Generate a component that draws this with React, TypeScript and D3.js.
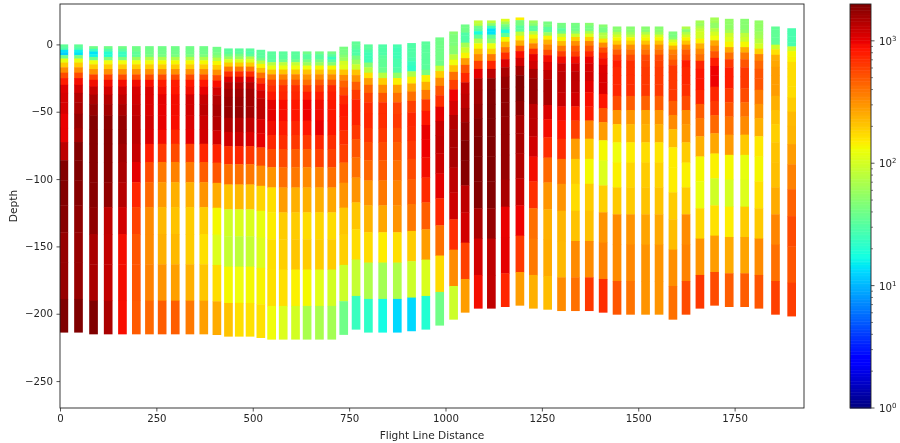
import React, { useEffect, useRef } from "react";
import * as d3 from "d3";

// station position along the flight line
const stations = [
  10, 48, 87, 125, 162, 198, 232, 265, 299, 337, 373, 407, 437, 465, 493, 521, 549, 579, 611, 641,
  673, 705, 736, 768, 800, 837, 875, 912, 949, 985, 1021, 1051, 1085, 1119, 1155, 1193, 1228, 1265, 1301, 1337,
  1373, 1409, 1445, 1480, 1519, 1554, 1590, 1624, 1660, 1698, 1736, 1776, 1813, 1856, 1898,
];

// ground elevation at every station
const elevation = [
  0, 0, -1.3, -1.3, -1.3, -1.3, -1.3, -1.3, -1.3, -1.3, -1.3, -1.8, -3, -3, -3, -4, -5.2, -5.2, -5.2, -5.2,
  -5.2, -5.2, -1.7, 2.2, 0, 0, 0, 1, 2.2, 5.2, 9.6, 14.8, 17.8, 17.8, 19, 20, 17.8, 17, 16, 16,
  16, 14.8, 13.3, 13.3, 13.3, 13.3, 9.6, 13.3, 17.8, 20, 19, 19, 17.8, 13.3, 12,
];

// bottom of each model layer, depth below ground
const layerBottoms = [2, 4, 6, 8, 10.5, 13.5, 17, 21, 25, 30, 36, 43, 51.5, 62, 72.5, 86, 101, 119.5, 139.5, 162, 189, 214];

// one row per station, one value per layer (top to bottom)
const resistivity = [
  [35,30,14,12,40,121,195,330,553,800,1060,1130,1130,990,1000,1330,1950,1950,1900,1730,1730,2000],
  [35,30,16,14,43,121,195,330,553,930,1165,1420,1510,1730,1600,1950,2000,1900,1800,1730,1730,2000],
  [40,24,14,16,40,131,195,320,600,950,1250,1510,1730,1950,1900,1900,1900,1900,1800,1510,1510,2000],
  [40,30,20,20,45,131,195,320,600,950,1165,1420,1600,1850,1900,1900,1900,1800,1330,1290,1290,1510],
  [40,33,24,24,45,131,195,320,553,930,1165,1330,1510,1730,1730,1600,1510,1400,1165,930,930,900],
  [40,40,35,35,60,131,195,320,553,950,1130,1165,1250,1330,1330,1250,1025,745,590,510,510,490],
  [40,40,40,43,72,131,195,320,553,900,1100,1100,1100,1165,1100,800,553,440,330,330,354,440],
  [40,40,40,43,72,136,195,320,553,800,930,1025,1000,1000,930,644,380,290,230,245,306,479],
  [40,40,40,43,72,136,195,320,553,800,867,930,930,900,745,553,354,245,210,227,280,479],
  [40,40,40,45,72,136,195,320,553,850,950,1165,1165,1100,1025,600,380,245,195,195,245,380],
  [40,40,40,45,72,136,195,320,553,850,1000,1250,1330,1200,1165,745,479,306,195,168,205,280],
  [40,40,43,50,77,136,195,320,553,900,1165,1420,1510,1420,1165,760,510,255,136,110,170,255],
  [33,33,40,60,106,195,380,700,1100,1420,1600,1700,1730,1450,1165,700,412,210,97,88,136,210],
  [33,33,43,60,106,195,380,700,1100,1400,1600,1700,1730,1400,1200,745,412,227,106,82,131,168],
  [33,30,35,72,110,195,380,700,1100,1400,1600,1600,1600,1300,1100,644,380,210,106,88,136,165],
  [33,33,33,40,77,138,220,412,650,930,1165,1330,1330,1100,1000,553,330,180,121,110,142,165],
  [33,33,33,33,77,121,210,380,600,700,850,1025,1025,950,745,553,306,168,150,168,165,131],
  [33,33,33,40,82,126,210,354,510,700,745,900,900,800,700,553,412,285,195,190,168,110],
  [33,33,33,40,88,131,205,354,510,700,745,850,850,745,644,479,380,245,195,205,145,100],
  [40,33,33,43,60,131,210,306,412,600,800,960,960,850,644,479,330,245,172,195,136,68],
  [40,33,33,43,60,136,210,330,479,644,800,950,950,1000,745,600,354,245,180,195,115,68],
  [40,33,24,33,50,136,210,330,510,745,800,850,850,850,700,600,412,263,172,195,100,65],
  [43,43,43,50,60,100,115,210,330,450,553,745,850,800,700,600,412,306,205,190,94,40],
  [35,35,33,30,30,43,60,94,210,306,479,644,760,760,644,510,412,306,205,170,88,24],
  [33,33,28,26,26,26,50,77,165,285,450,600,720,745,660,553,440,306,235,172,72,22],
  [30,30,30,30,33,35,35,38,77,195,330,510,700,700,644,553,479,380,263,150,65,17],
  [28,26,26,26,26,28,28,30,55,145,285,412,600,644,553,479,412,354,306,168,72,13],
  [30,30,30,30,30,28,24,22,72,145,263,412,600,745,720,644,553,479,380,195,94,13],
  [33,33,33,33,33,33,33,33,43,145,245,380,644,850,1000,960,930,720,479,285,106,20],
  [40,40,40,40,40,40,40,40,88,195,330,510,700,1025,1240,1290,1200,1025,745,412,175,40],
  [50,45,45,45,45,50,50,82,131,210,412,600,960,1130,1420,1510,1510,1330,1200,700,330,94],
  [40,40,40,30,30,30,65,94,142,285,510,745,1240,1330,1510,1730,1950,1900,1330,1165,600,285],
  [90,77,40,33,18,35,72,136,215,330,600,1025,1510,1600,1730,1900,2000,2000,1950,1510,1165,930],
  [82,50,24,14,14,35,50,126,190,380,745,1330,1850,1950,2000,2000,2000,2000,1950,1730,1330,1300],
  [110,65,43,33,18,35,136,240,400,700,1100,1510,1730,1800,1800,1730,1730,1730,1510,1000,1025,745],
  [145,43,43,33,33,82,145,250,510,900,1165,1600,1950,1950,1800,1510,1510,1420,1250,960,644,285],
  [60,50,33,33,77,138,195,354,700,1025,1165,1510,1700,1700,1330,1330,1165,930,700,412,380,245],
  [43,43,33,33,60,145,245,354,553,930,1100,1330,1510,1510,1100,930,700,440,306,245,255,220],
  [43,40,33,40,88,136,227,380,600,950,1240,1330,1330,1240,950,867,700,412,306,235,230,330],
  [43,40,40,50,94,190,320,479,600,950,1165,1330,1300,1165,800,600,285,195,172,210,330,412],
  [50,43,43,65,110,195,354,510,745,1000,1130,1165,1025,900,800,354,195,136,195,215,330,644],
  [50,43,43,72,82,168,330,553,745,930,1060,1100,1100,867,510,285,136,110,190,306,354,700],
  [50,50,72,100,136,195,330,479,644,800,745,745,745,553,306,180,131,145,200,330,330,510],
  [50,50,60,82,138,195,320,412,553,700,700,700,700,479,306,227,150,180,200,306,340,400],
  [50,50,72,110,138,210,330,412,553,600,644,650,650,460,270,240,170,195,210,270,306,306],
  [50,50,60,100,138,210,330,412,553,600,644,644,644,479,306,245,160,185,210,263,306,306],
  [45,43,50,100,138,245,354,412,510,644,644,644,644,479,330,220,150,150,195,220,320,412],
  [72,50,72,100,142,210,354,479,553,800,745,745,700,553,330,290,195,145,195,330,354,553],
  [65,60,72,88,100,100,145,245,330,412,745,867,867,745,479,380,245,136,126,180,306,644],
  [65,65,55,55,77,100,131,263,354,510,800,960,960,745,644,440,263,145,97,165,285,553],
  [55,55,55,55,65,94,110,142,263,412,644,800,800,644,510,400,290,136,102,150,255,479],
  [50,50,50,50,55,82,94,136,245,380,510,644,644,553,412,330,200,121,110,195,270,479],
  [55,55,55,55,60,65,77,100,190,354,440,510,510,380,306,245,155,138,165,200,330,510],
  [35,35,35,35,35,35,94,165,245,263,285,285,285,245,215,190,210,217,255,345,412,600],
  [28,28,28,28,28,28,94,136,145,170,172,172,172,195,227,235,285,354,460,553,510,620],
];

const xTicks = [0, 250, 500, 750, 1000, 1250, 1500, 1750];
const yTicks = [0, -50, -100, -150, -200, -250];
const colorPowers = [1, 10, 100, 1000];

const stationWidth = 22.5;

// matplotlib's jet, channel by channel
const jetR = d3.scaleLinear<number>().domain([0, 0.35, 0.66, 0.89, 1]).range([0, 0, 1, 1, 0.5]);
const jetG = d3.scaleLinear<number>().domain([0, 0.125, 0.375, 0.64, 0.91, 1]).range([0, 0, 1, 1, 0, 0]);
const jetB = d3.scaleLinear<number>().domain([0, 0.11, 0.34, 0.65, 1]).range([0.5, 1, 1, 0, 0]);
const jet = (t: number) =>
  d3.rgb(jetR(t) * 255, jetG(t) * 255, jetB(t) * 255).formatRgb();

const FONT = "'DejaVu Sans', sans-serif";
const INK = "#262626";

export default function App() {
  const svgRef = useRef<SVGSVGElement>(null);

  useEffect(() => {
    const svg = d3.select(svgRef.current);
    svg.selectAll("*").remove();

    const plot = { left: 60, right: 804, top: 4, bottom: 408 };
    const bar = { left: 850, right: 871 };

    const x = d3.scaleLinear().domain([0, 1930]).range([plot.left, plot.right]);
    const y = d3.scaleLinear().domain([-270, 30]).range([plot.bottom, plot.top]);
    const norm = d3.scaleLog().domain([1, 2000]).range([0, 1]);
    const barY = d3.scaleLog().domain([1, 2000]).range([plot.bottom, plot.top]);

    const defs = svg.append("defs");
    defs
      .append("clipPath")
      .attr("id", "plot-area")
      .append("rect")
      .attr("x", plot.left)
      .attr("y", plot.top)
      .attr("width", plot.right - plot.left)
      .attr("height", plot.bottom - plot.top);
    // the picture is soft, as if it had been rescaled
    defs
      .append("filter")
      .attr("id", "soft")
      .attr("filterUnits", "userSpaceOnUse")
      .attr("x", 0)
      .attr("y", 0)
      .attr("width", 900)
      .attr("height", 443)
      .append("feGaussianBlur")
      .attr("stdDeviation", 0.4);

    const root = svg.append("g").attr("filter", "url(#soft)");

    const w = x(stationWidth) - x(0);
    const columns = root
      .append("g")
      .attr("clip-path", "url(#plot-area)")
      .selectAll("g")
      .data(stations)
      .join("g");

    columns.each(function (station, s) {
      const top = elevation[s];
      d3.select(this)
        .selectAll("rect")
        .data(resistivity[s])
        .join("rect")
        .attr("x", x(station) - w / 2)
        .attr("width", w)
        .attr("y", (_, i) => y(top - (i ? layerBottoms[i - 1] : 0)))
        // small overlap so no white hairline shows between layers
        .attr("height", (_, i) => {
          const h = y(top - layerBottoms[i]) - y(top - (i ? layerBottoms[i - 1] : 0));
          return i < layerBottoms.length - 1 ? h + 0.4 : h;
        })
        .attr("fill", (d) => jet(norm(d)));
    });

    const xAxis = root
      .append("g")
      .attr("transform", `translate(0,${plot.bottom})`)
      .call(d3.axisBottom(x).tickValues(xTicks).tickSize(3.5).tickPadding(3.5).tickSizeOuter(0).tickFormat(d3.format("d")));
    const yAxis = root
      .append("g")
      .attr("transform", `translate(${plot.left},0)`)
      .call(d3.axisLeft(y).tickValues(yTicks).tickSize(3.5).tickPadding(3.5).tickSizeOuter(0).tickFormat(d3.format("d")));

    [xAxis, yAxis].forEach((axis) => {
      axis.attr("font-family", FONT).attr("font-size", 10.2);
      axis.selectAll("text").attr("fill", INK);
      axis.selectAll("line").attr("stroke", INK).attr("stroke-width", 0.8);
      axis.select(".domain").remove();
    });

    root
      .append("rect")
      .attr("x", plot.left)
      .attr("y", plot.top)
      .attr("width", plot.right - plot.left)
      .attr("height", plot.bottom - plot.top)
      .attr("fill", "none")
      .attr("stroke", INK)
      .attr("stroke-width", 0.9);

    root
      .append("text")
      .attr("x", (plot.left + plot.right) / 2)
      .attr("y", 439)
      .attr("text-anchor", "middle")
      .attr("font-family", FONT)
      .attr("font-size", 10.6)
      .attr("fill", INK)
      .text("Flight Line Distance");

    root
      .append("text")
      .attr("transform", `translate(17,${(plot.top + plot.bottom) / 2}) rotate(-90)`)
      .attr("text-anchor", "middle")
      .attr("font-family", FONT)
      .attr("font-size", 10.6)
      .attr("fill", INK)
      .text("Depth");

    // colorbar
    const steps = d3.range(256);
    const stepH = (plot.bottom - plot.top) / steps.length;
    root
      .append("g")
      .selectAll("rect")
      .data(steps)
      .join("rect")
      .attr("x", bar.left)
      .attr("width", bar.right - bar.left)
      .attr("y", (d) => plot.bottom - (d + 1) * stepH)
      .attr("height", stepH + 0.5)
      .attr("fill", (d) => jet((d + 0.5) / steps.length));

    root
      .append("rect")
      .attr("x", bar.left)
      .attr("y", plot.top)
      .attr("width", bar.right - bar.left)
      .attr("height", plot.bottom - plot.top)
      .attr("fill", "none")
      .attr("stroke", INK)
      .attr("stroke-width", 0.9);

    const minor = colorPowers
      .flatMap((p) => d3.range(2, 10).map((m) => m * p))
      .filter((v) => v < 2000);
    root
      .append("g")
      .selectAll("line")
      .data(minor)
      .join("line")
      .attr("x1", bar.right)
      .attr("x2", bar.right + 2)
      .attr("y1", (d) => barY(d))
      .attr("y2", (d) => barY(d))
      .attr("stroke", INK)
      .attr("stroke-width", 0.6);

    const major = root.append("g").selectAll("g").data(colorPowers).join("g");
    major
      .append("line")
      .attr("x1", bar.right)
      .attr("x2", bar.right + 3.5)
      .attr("y1", (d) => barY(d))
      .attr("y2", (d) => barY(d))
      .attr("stroke", INK)
      .attr("stroke-width", 0.8);
    const label = major
      .append("text")
      .attr("x", bar.right + 8)
      .attr("y", (d) => barY(d) + 4)
      .attr("font-family", FONT)
      .attr("font-size", 10.2)
      .attr("fill", INK);
    label.append("tspan").text("10");
    label
      .append("tspan")
      .attr("dy", -4)
      .attr("font-size", 7)
      .text((d) => String(Math.round(Math.log10(d))));
  }, []);

  return (
    <svg
      ref={svgRef}
      width={900}
      height={443}
      style={{ position: "absolute", left: 0, top: 0, background: "#fff" }}
    />
  );
}
